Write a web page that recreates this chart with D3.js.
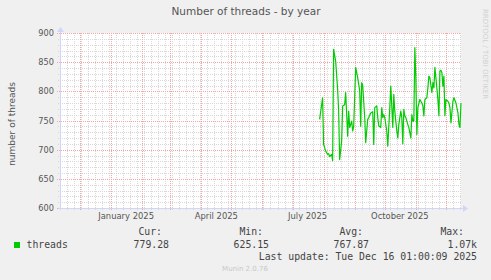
<!DOCTYPE html>
<meta charset="utf-8">
<style>
    body {
        margin: 0;
        background: #f0f0f0;
    }
    svg {
        display: block;
        font-family: "DejaVu Sans", sans-serif;
    }
    .mono {
        font-family: "DejaVu Sans Mono", monospace;
        font-size: 9.8px;
        fill: #444;
    }
</style>
<body>
<script src="https://cdn.jsdelivr.net/npm/d3@7"></script>
<script>
    const dates = [
        "2025-07-28", "2025-07-31", "2025-08-01", "2025-08-03", "2025-08-05", "2025-08-06", "2025-08-07",
        "2025-08-09", "2025-08-10", "2025-08-11", "2025-08-13", "2025-08-15", "2025-08-16", "2025-08-17",
        "2025-08-19", "2025-08-20", "2025-08-22", "2025-08-23", "2025-08-25", "2025-08-26", "2025-08-27",
        "2025-08-29", "2025-08-30", "2025-08-31", "2025-09-02", "2025-09-04", "2025-09-06", "2025-09-07",
        "2025-09-08", "2025-09-09", "2025-09-11", "2025-09-12", "2025-09-14", "2025-09-15", "2025-09-17",
        "2025-09-19", "2025-09-20", "2025-09-21", "2025-09-23", "2025-09-24", "2025-09-25", "2025-09-27",
        "2025-09-28", "2025-09-29", "2025-09-30", "2025-10-01", "2025-10-03", "2025-10-04", "2025-10-06",
        "2025-10-07", "2025-10-08", "2025-10-09", "2025-10-10", "2025-10-11", "2025-10-13", "2025-10-14",
        "2025-10-15", "2025-10-17", "2025-10-18", "2025-10-19", "2025-10-20", "2025-10-21", "2025-10-22",
        "2025-10-24", "2025-10-25", "2025-10-27", "2025-10-28", "2025-10-29", "2025-10-30", "2025-10-31",
        "2025-11-01", "2025-11-02", "2025-11-03", "2025-11-05", "2025-11-07", "2025-11-08", "2025-11-09",
        "2025-11-10", "2025-11-12", "2025-11-13", "2025-11-14", "2025-11-15", "2025-11-17", "2025-11-18",
        "2025-11-19", "2025-11-20", "2025-11-21", "2025-11-23", "2025-11-24", "2025-11-25", "2025-11-26",
        "2025-11-27", "2025-11-28", "2025-11-29", "2025-11-30", "2025-12-01", "2025-12-03", "2025-12-04",
        "2025-12-05", "2025-12-06", "2025-12-08", "2025-12-09", "2025-12-11", "2025-12-13", "2025-12-14",
        "2025-12-15", "2025-12-16"
    ];
    const threads = [
        752, 789, 709, 698, 692, 693, 688,
        692, 681, 872, 852, 803, 766, 683,
        715, 775, 777, 798, 723, 766, 738,
        749, 732, 740, 841, 823, 801, 740,
        815, 810, 755, 712, 752, 755, 763,
        765, 709, 772, 775, 755, 741, 738,
        772, 755, 760, 755, 732, 706, 772,
        809, 775, 738, 795, 766, 732, 720,
        743, 766, 755, 710, 769, 758, 755,
        743, 738, 720, 760, 749, 749, 875,
        823, 726, 772, 786, 780, 775, 758,
        786, 789, 806, 826, 823, 798, 815,
        806, 841, 823, 786, 758, 835, 836,
        832, 809, 826, 758, 786, 783, 780,
        772, 746, 783, 789, 780, 763, 743,
        738, 780
    ];

    const yTicks = [600, 650, 700, 750, 800, 850, 900];
    const xLabelMonths = ["2025-01-01", "2025-04-01", "2025-07-01", "2025-10-01"];
    const legendHeads = ["Cur:", "Min:", "Avg:", "Max:"];
    const legendValues = ["779.28", "625.15", "767.87", "1.07k"];

    const width = 491, height = 280;
    const plotL = 60, plotR = 461, plotT = 33, plotB = 208;

    const parse = d3.timeParse("%Y-%m-%d");
    const data = dates.map((d, i) => ({date: parse(d), value: threads[i]}));

    const x = d3.scaleTime()
        .domain([new Date(2024, 10, 11, 1), new Date(2025, 11, 16, 1)])
        .range([plotL, plotR]);
    const y = d3.scaleLinear()
        .domain([600, 900])
        .range([plotB, plotT]);

    const svg = d3.select("body").append("svg")
        .attr("width", width)
        .attr("height", height);

    svg.append("rect")
        .attr("x", plotL).attr("y", plotT)
        .attr("width", plotR - plotL).attr("height", plotB - plotT)
        .attr("fill", "#fff");

    const grid = svg.append("g").attr("shape-rendering", "crispEdges");
    const minorColor = "#d8d8d8", majorColor = "#f6a6a6";

    const months = d3.timeMonth.range(x.domain()[0], x.domain()[1]);
    const monthX = new Set(months.map(d => Math.round(x(d))));
    const px = v => Math.round(v) + 0.5;

    // minor grid: weeks and every 10 threads
    grid.selectAll(".vmin")
        .data(d3.timeMonday.range(x.domain()[0], x.domain()[1]).filter(d => !monthX.has(Math.round(x(d)))))
        .enter().append("line")
        .attr("class", "vmin")
        .attr("x1", d => px(x(d))).attr("x2", d => px(x(d)))
        .attr("y1", plotT).attr("y2", plotB + 2)
        .attr("stroke", minorColor).attr("stroke-dasharray", "1,1");
    grid.selectAll(".hmin")
        .data(d3.range(600, 901, 10).filter(d => d % 50 !== 0))
        .enter().append("line")
        .attr("class", "hmin")
        .attr("x1", plotL - 2).attr("x2", plotR)
        .attr("y1", d => px(y(d))).attr("y2", d => px(y(d)))
        .attr("stroke", minorColor).attr("stroke-dasharray", "1,1");

    // major grid: months and every 50 threads
    grid.selectAll(".vmaj")
        .data(months)
        .enter().append("line")
        .attr("class", "vmaj")
        .attr("x1", d => px(x(d))).attr("x2", d => px(x(d)))
        .attr("y1", plotT).attr("y2", plotB + 3)
        .attr("stroke", majorColor).attr("stroke-dasharray", "1,1");
    grid.selectAll(".hmaj")
        .data(yTicks)
        .enter().append("line")
        .attr("class", "hmaj")
        .attr("x1", plotL - 3).attr("x2", plotR)
        .attr("y1", d => px(y(d))).attr("y2", d => px(y(d)))
        .attr("stroke", majorColor).attr("stroke-dasharray", "1,1");

    // axes with arrows
    const axisColor = "#cfd6f8";
    grid.append("line")
        .attr("x1", plotL - 2).attr("x2", plotR + 3)
        .attr("y1", plotB + 0.5).attr("y2", plotB + 0.5)
        .attr("stroke", axisColor);
    grid.append("line")
        .attr("x1", plotL + 0.5).attr("x2", plotL + 0.5)
        .attr("y1", plotT - 3).attr("y2", plotB + 2)
        .attr("stroke", axisColor);
    svg.append("path")
        .attr("d", `M${plotR + 2},${plotB - 3}L${plotR + 7},${plotB + 0.5}L${plotR + 2},${plotB + 4}Z`)
        .attr("fill", axisColor);
    svg.append("path")
        .attr("d", `M${plotL - 3},${plotT - 1}L${plotL + 0.5},${plotT - 6}L${plotL + 4},${plotT - 1}Z`)
        .attr("fill", axisColor);

    // the series
    svg.append("path")
        .datum(data)
        .attr("d", d3.line().x(d => x(d.date)).y(d => y(d.value)))
        .attr("fill", "none")
        .attr("stroke", "#00cc00")
        .attr("stroke-width", 1.2)
        .attr("stroke-linejoin", "round");

    // tick labels
    svg.selectAll(".ylab")
        .data(yTicks)
        .enter().append("text")
        .attr("x", plotL - 6)
        .attr("y", d => y(d) + 3)
        .attr("text-anchor", "end")
        .attr("font-size", 8.2)
        .attr("fill", "#555")
        .text(d => d);

    const fmt = d3.timeFormat("%B %Y");
    svg.selectAll(".xlab")
        .data(xLabelMonths.map(parse))
        .enter().append("text")
        .attr("x", d => x(d3.timeDay.offset(d, 15)))
        .attr("y", 219)
        .attr("text-anchor", "middle")
        .attr("font-size", 8.4)
        .attr("fill", "#555")
        .text(fmt);

    // titles
    svg.append("text")
        .attr("x", 246).attr("y", 15)
        .attr("text-anchor", "middle")
        .attr("font-size", 10.5)
        .attr("fill", "#555")
        .text("Number of threads - by year");

    svg.append("text")
        .attr("transform", "translate(15,124) rotate(-90)")
        .attr("text-anchor", "middle")
        .attr("font-size", 9)
        .attr("fill", "#555")
        .text("number of threads");

    svg.append("text")
        .attr("transform", "translate(483,54) rotate(90)")
        .attr("text-anchor", "middle")
        .attr("font-size", 7)
        .attr("fill", "#d0d0d0")
        .text("RRDTOOL / TOBI OETIKER");

    // legend
    const colRight = [162, 263, 363, 464];
    const valRight = [169, 269, 369, 477];
    svg.selectAll(".lhead")
        .data(legendHeads)
        .enter().append("text")
        .attr("class", "mono")
        .attr("x", (d, i) => colRight[i])
        .attr("y", 235)
        .attr("text-anchor", "end")
        .text(d => d);
    svg.selectAll(".lval")
        .data(legendValues)
        .enter().append("text")
        .attr("class", "mono")
        .attr("x", (d, i) => valRight[i])
        .attr("y", 248)
        .attr("text-anchor", "end")
        .text(d => d);

    svg.append("rect")
        .attr("x", 14).attr("y", 242)
        .attr("width", 6).attr("height", 6)
        .attr("fill", "#00cc00");
    svg.append("text")
        .attr("class", "mono")
        .attr("x", 26.5).attr("y", 248)
        .text("threads");

    svg.append("text")
        .attr("class", "mono")
        .attr("x", 477).attr("y", 260)
        .attr("text-anchor", "end")
        .text("Last update: Tue Dec 16 01:00:09 2025");

    svg.append("text")
        .attr("x", 245).attr("y", 271)
        .attr("text-anchor", "middle")
        .attr("font-size", 7)
        .attr("fill", "#c8c8c8")
        .text("Munin 2.0.76");
</script>
</body>
